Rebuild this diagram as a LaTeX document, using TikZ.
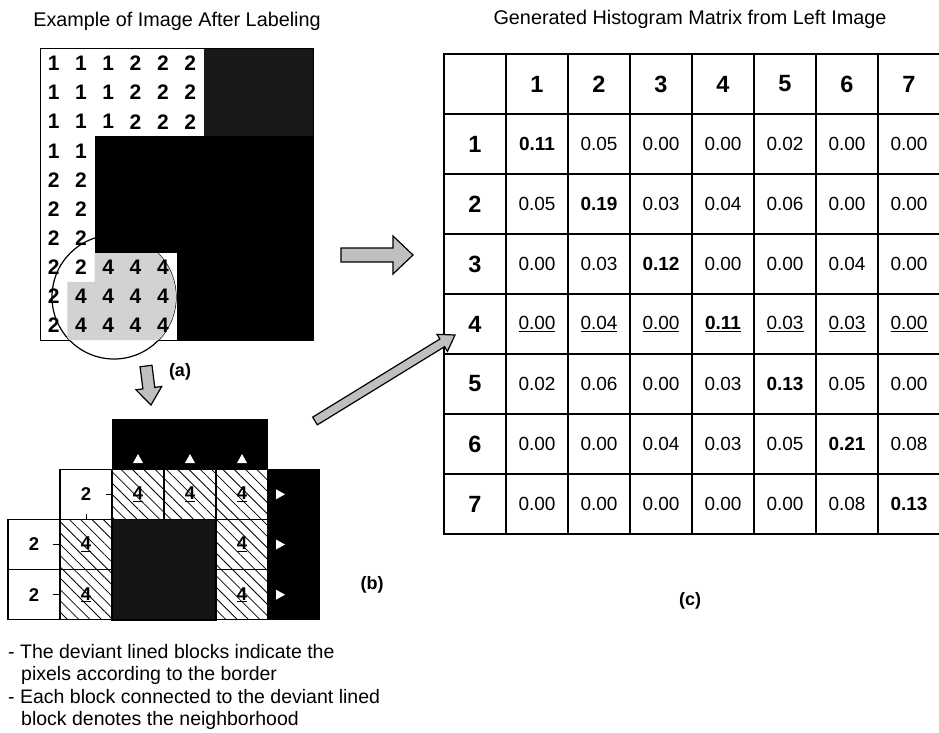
\documentclass[tikz,border=0pt]{standalone}
\usepackage{fontspec}
\setmainfont{Liberation Sans}
\usetikzlibrary{calc,patterns.meta}

\tikzset{
  ttl/.style={font=\fontsize{19.8}{22}\selectfont, inner sep=0pt, anchor=base},
  note/.style={font=\fontsize{19.5}{22}\selectfont, inner sep=0pt, anchor=base west},
  lbl/.style={font=\fontsize{18}{20}\selectfont\bfseries, inner sep=0pt},
  pxnum/.style={font=\fontsize{21}{22}\selectfont\bfseries, inner sep=0pt},
  bcell/.style={draw, line width=1.2pt, minimum width=52pt, minimum height=50.2pt, inner sep=0pt,
    font=\fontsize{18.5}{20}\selectfont\bfseries},
  hatched/.style={bcell, pattern={Lines[angle=-45,distance=8pt,line width=0.8pt]}},
  nbr/.style={line width=0.9pt},
  tcell/.style={draw, line width=1.4pt, minimum width=62pt, minimum height=60pt, inner sep=0pt,
    font=\fontsize{19}{20}\selectfont},
  hdr/.style={font=\fontsize{23.5}{25}\selectfont\bfseries},
  arrowfill/.style={fill=gray!50, draw=black, line width=1.2pt, line join=miter}
}

\newcommand{\blockarrow}[5]{%
  \coordinate (hb) at ($(#2)!#5!(#1)$);
  \filldraw[arrowfill] ($(#1)!#3!90:(#2)$) -- ($(hb)!#3!-90:(#1)$) -- ($(hb)!#4!-90:(#1)$)
    -- (#2) -- ($(hb)!#4!90:(#1)$) -- ($(hb)!#3!90:(#1)$) -- ($(#1)!#3!-90:(#2)$) -- cycle;
}

\begin{document}
\begin{tikzpicture}[x=1pt,y=-1pt]
\useasboundingbox (0,0) rectangle (939,733);

\node[ttl] (titleA) at (177,27) {Example of Image After Labeling};
\node[ttl] (titleC) at (690,25) {Generated Histogram Matrix from Left Image};

% labelled image
\draw[line width=1pt] (40,49) rectangle (313,340);
\fill[black!90] (204.2,49) rectangle (313,136.3);
\filldraw[fill=white, line width=1.2pt] (114,297) circle (62pt);
\begin{scope}
  \clip (114,297) circle (62pt);
  \fill[gray!35] (94.6,252.7) rectangle (176.5,340) (67.3,281.8) rectangle (94.6,340);
\end{scope}
\fill (94.6,136.3) rectangle (313,252.7);
\fill (176.5,252.7) rectangle (313,340);
\foreach \r/\vals in {0/{1,1,1,2,2,2},1/{1,1,1,2,2,2},2/{1,1,1,2,2,2},3/{1,1},4/{2,2},
    5/{2,2},6/{2,2},7/{2,2,4,4,4},8/{2,4,4,4,4},9/{2,4,4,4,4}}
  \foreach \v [count=\c from 0] in \vals
    \node[pxnum] (a-\r-\c) at ({40+27.3*(\c+0.5)},{49+29.1*(\r+0.5)}) {\v};

\coordinate (arrS-s) at (146,366);
\coordinate (arrS-e) at (151,405);
\blockarrow{arrS-s}{arrS-e}{6pt}{13pt}{17pt}
\node[lbl] (labA) at (180,372) {(a)};

% border blocks
\fill (112,419) rectangle (268,469.2);
\fill (268,469.2) rectangle (320,620);
\fill[black!92] (112,519.4) rectangle (216,620);
\draw[line width=1.2pt] (112,519.4) rectangle (216,620);
\node[bcell] (bc-1-1) at (86,494.3) {2};
\node[bcell] (bc-2-0) at (34,544.5) {2};
\node[bcell] (bc-3-0) at (34,594.7) {2};
\foreach \r/\c in {1/2,1/3,1/4,2/1,2/4,3/1,3/4}
  \node[hatched] (bc-\r-\c) at ({8+52*(\c+0.5)},{419+50.2*(\r+0.5)}) {\underline{4}};
\foreach \x in {138,190,242}
  \fill[white] (\x-5,463) -- (\x+5,463) -- (\x,454) -- cycle;
\foreach \y in {494.3,544.5,594.7}
  \fill[white] (276,\y-5) -- (276,\y+5) -- (285,\y) -- cycle;
\draw[nbr] ([xshift=-7pt]bc-1-1.east) -- ([xshift=-1pt]bc-1-1.east);
\draw[nbr] ([yshift=6pt]bc-1-1.south) -- ([yshift=1pt]bc-1-1.south);
\draw[nbr] ([xshift=-8pt]bc-2-0.east) -- ([xshift=-2pt]bc-2-0.east);
\draw[nbr] ([xshift=-8pt]bc-3-0.east) -- ([xshift=-2pt]bc-3-0.east);
\node[lbl] (labB) at (372,585) {(b)};

\node[note] (note1) at (8,658) {- The deviant lined blocks indicate the};
\node[note] (note2) at (21,680) {pixels according to the border};
\node[note] (note3) at (8,703) {- Each block connected to the deviant lined};
\node[note] (note4) at (21,725) {block denotes the neighborhood};

% histogram matrix
\node[tcell] (t-0-0) at (475,84) {};
\foreach \c in {1,...,7}
  \node[tcell, hdr] (t-0-\c) at ({444+62*(\c+0.5)},84) {\c};
\foreach \r/\vals in {
    1/{\textbf{0.11},0.05,0.00,0.00,0.02,0.00,0.00},
    2/{0.05,\textbf{0.19},0.03,0.04,0.06,0.00,0.00},
    3/{0.00,0.03,\textbf{0.12},0.00,0.00,0.04,0.00},
    4/{\underline{0.00},\underline{0.04},\underline{0.00},\underline{\textbf{0.11}},\underline{0.03},\underline{0.03},\underline{0.00}},
    5/{0.02,0.06,0.00,0.03,\textbf{0.13},0.05,0.00},
    6/{0.00,0.00,0.04,0.03,0.05,\textbf{0.21},0.08},
    7/{0.00,0.00,0.00,0.00,0.00,0.08,\textbf{0.13}}}{
  \node[tcell, hdr] (t-\r-0) at (475,{54+60*(\r+0.5)}) {\r};
  \foreach \v [count=\c] in \vals
    \node[tcell] (t-\r-\c) at ({444+62*(\c+0.5)},{54+60*(\r+0.5)}) {\v};
}
\node[lbl] (labC) at (690,601) {(c)};

\coordinate (arrR-s) at (341,255);
\coordinate (arrR-e) at (413,255);
\blockarrow{arrR-s}{arrR-e}{7pt}{19pt}{20pt}
\coordinate (arrD-s) at (315,421);
\coordinate (arrD-e) at (455,335);
\blockarrow{arrD-s}{arrD-e}{4.5pt}{10pt}{15pt}
\end{tikzpicture}
\end{document}
